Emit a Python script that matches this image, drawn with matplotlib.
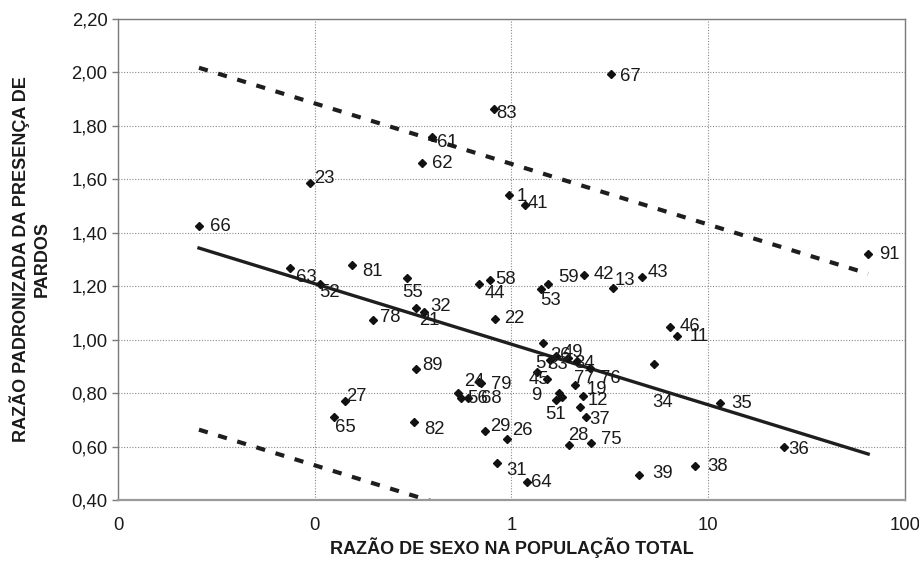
import matplotlib
matplotlib.use("Agg")
import matplotlib.pyplot as plt
from matplotlib.ticker import FixedLocator, FixedFormatter, NullLocator

plt.rcParams['font.family'] = ['Liberation Sans', 'DejaVu Sans']

# ---------------- data ----------------
labels = ["66", "23", "62", "61", "83", "67", "1", "41", "63", "52",
          "81", "55", "32", "21", "78", "44", "58", "22", "53", "59",
          "42", "13", "43", "91", "46", "11", "34", "35", "36", "38",
          "39", "31", "64", "29", "26", "28", "75", "37", "12", "19",
          "77", "51", "9", "", "89", "27", "65", "82", "24", "79",
          "56", "68", "", "", "45", "57", "33", "26", "49", "34", "76"]
sex_ratio = [0.0258, 0.0943, 0.3528, 0.3948, 0.813, 3.186, 0.972, 1.169, 0.0746, 0.106,
             0.1542, 0.2935, 0.3584, 0.3263, 0.198, 0.6797, 0.7755, 0.8196, 1.42, 1.53,
             2.331, 3.285, 4.613, 65.0, 6.38, 6.90, 5.31, 11.46, 24.23, 8.58,
             4.438, 0.839, 1.20, 0.734, 0.954, 1.963, 2.521, 2.387, 2.225, 2.312,
             2.091, 1.68, 1.746, 1.816, 0.326, 0.142, 0.1253, 0.3186, 0.6845, 0.698,
             0.557, 0.602, 0.535, 1.451, 1.517, 1.34, 1.566, 1.68, 1.933, 2.148, 2.50]
pardos_ratio = [1.425, 1.585, 1.660, 1.759, 1.862, 1.994, 1.541, 1.503, 1.267, 1.209,
                1.278, 1.232, 1.105, 1.118, 1.074, 1.2075, 1.224, 1.079, 1.189, 1.209,
                1.242, 1.195, 1.236, 1.321, 1.048, 1.014, 0.908, 0.763, 0.600, 0.528,
                0.495, 0.541, 0.468, 0.660, 0.629, 0.607, 0.613, 0.7125, 0.750, 0.790,
                0.831, 0.775, 0.802, 0.787, 0.890, 0.772, 0.7125, 0.694, 0.843, 0.837,
                0.781, 0.781, 0.800, 0.987, 0.852, 0.881, 0.9245, 0.939, 0.932, 0.922, 0.893]

# regression line and band (endpoints)
fit_x = [0.0258, 65.0]
fit_y = [1.343, 0.573]
upper_y = [2.017, 1.247]
lower_y = [0.664, -0.106]

x_ticks = [0.01, 0.1, 1, 10, 100]
x_tick_labels = ["0", "0", "1", "10", "100"]
y_ticks = [0.40, 0.60, 0.80, 1.00, 1.20, 1.40, 1.60, 1.80, 2.00, 2.20]
y_tick_labels = ["0,40", "0,60", "0,80", "1,00", "1,20", "1,40", "1,60", "1,80", "2,00", "2,20"]

x_title = "RAZÃO DE SEXO NA POPULAÇÃO TOTAL"
y_title = "RAZÃO PADRONIZADA DA PRESENÇA DE\nPARDOS"

# label offsets in pixels (dx, dy up) -- styling only
label_offsets = [(10, 0), (3, 5), (9, 0), (4, -5.5), (1, -4), (8, -3), (7, -1), (2, 2), (5, -9), (-2, -9),
                 (9, -6), (-6, -15), (5, 5), (2, -12), (6, 3), (5, -9), (4, 0), (9, 0), (-2, -11), (9, 6),
                 (9, 1), (0, 7), (4, 4), (10, -1), (9, 0), (12, 0), (-3, -38), (10, 0), (3, -3), (11, 0),
                 (12, 1), (9, -8), (3, 0), (4, 4), (4, 9), (-2, 9), (9, 4), (2, -3), (7, 6), (3, 6),
                 (-2, 7), (-12, -15), (-29, -3), (0, 0), (6, 4), (0, 4), (0, -11), (9, -8), (-16, 0), (9, -1),
                 (5, 0), (12, 0), (0, 0), (0, 0), (-19, 0), (-2, 8), (-4, -5), (-7, 1), (-6, 5), (-4, -3), (9, -10)]

# ---------------- figure ----------------
W, H = 920, 566
fig = plt.figure(figsize=(W / 100, H / 100), dpi=100)
ax = fig.add_axes([118 / W, 1 - 500.3 / H, (905 - 118) / W, (500.3 - 18.8) / H])

ax.set_xscale("log")
ax.set_xlim(0.01, 100)
ax.set_ylim(0.40, 2.20)

ax.plot(fit_x, upper_y, color="#1e1e1e", lw=3.0, ls=(0, (2.2, 2.6)), solid_capstyle="butt", zorder=2)
ax.plot(fit_x, lower_y, color="#1e1e1e", lw=3.0, ls=(0, (2.2, 2.6)), solid_capstyle="butt", zorder=2)
ax.plot(fit_x, fit_y, color="#1e1e1e", lw=2.4, zorder=3)

ax.plot(sex_ratio, pardos_ratio, ls="none", marker="D", markersize=4.3,
        color="#111111", zorder=4)

for lab, xv, yv, (dx, dy) in zip(labels, sex_ratio, pardos_ratio, label_offsets):
    if lab:
        ax.annotate(lab, (xv, yv), xytext=(dx + 1, dy), textcoords="offset pixels",
                    ha="left", va="center", fontsize=13.3, color="#1a1a1a", zorder=5)

ax.xaxis.set_major_locator(FixedLocator(x_ticks))
ax.xaxis.set_major_formatter(FixedFormatter(x_tick_labels))
ax.xaxis.set_minor_locator(NullLocator())
ax.yaxis.set_major_locator(FixedLocator(y_ticks))
ax.yaxis.set_major_formatter(FixedFormatter(y_tick_labels))

ax.grid(True, which="major", color="#8a8a8a", lw=0.8, ls=(0, (1, 1.5)))
ax.set_axisbelow(True)

for s in ["top", "right", "left"]:
    ax.spines[s].set_color("#7a7a7a")
    ax.spines[s].set_linewidth(1.0)
ax.spines["bottom"].set_color("#9a9a9a")
ax.spines["bottom"].set_linewidth(1.6)

ax.tick_params(axis="y", which="major", direction="out", length=4.5, width=1,
               color="#7a7a7a", labelsize=13.3, labelcolor="#1a1a1a", pad=3)
ax.tick_params(axis="x", which="major", length=0, labelsize=13.3,
               labelcolor="#1a1a1a", pad=12)

fig.text((118 + 905) / 2 / W, 1 - 548 / H, x_title, ha="center", va="center",
         fontsize=13, fontweight="bold", color="#1a1a1a")
fig.text(30 / W, 1 - 259.5 / H, y_title, ha="center", va="center", rotation=90,
         fontsize=13, fontweight="bold", color="#1a1a1a", linespacing=1.35,
         multialignment="center")

fig.savefig("out.png", dpi=100)
